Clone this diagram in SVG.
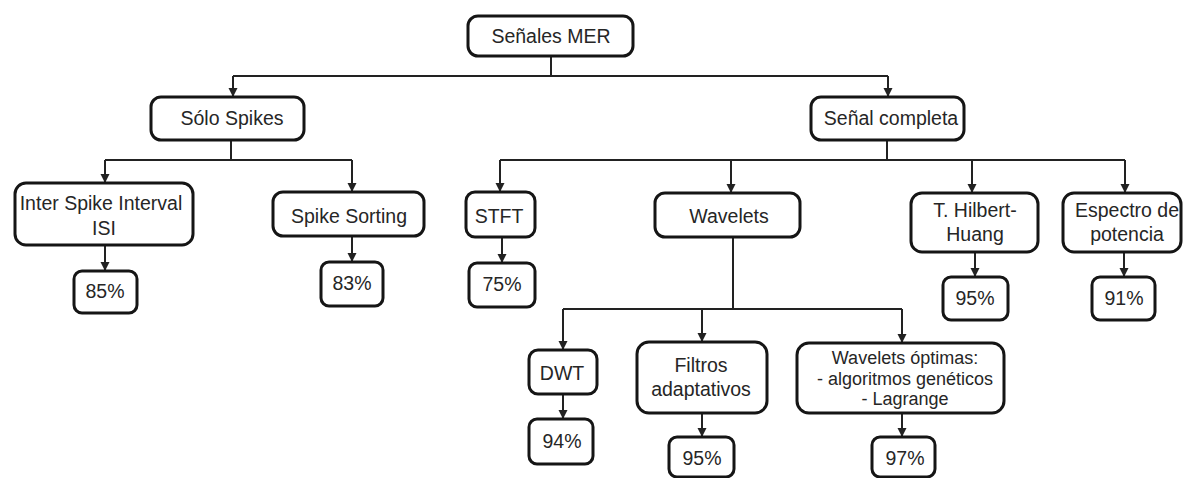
<svg xmlns="http://www.w3.org/2000/svg" width="1183" height="478" viewBox="0 0 1183 478">
  <style>
    .box rect { fill: #fff; stroke: #151515; stroke-width: 3; }
    .box text { font-family: "Liberation Sans", Arial, sans-serif; font-size: 19.5px; fill: #262626; text-anchor: middle; }
    .box text.tight { font-size: 18px; }
    .wires path { fill: none; stroke: #222; stroke-width: 2; }
  </style>
  <defs>
    <marker id="arrow" viewBox="0 0 10 10" refX="10" refY="5" markerWidth="9" markerHeight="10" markerUnits="userSpaceOnUse" orient="auto">
      <path d="M0,0 L10,5 L0,10 Z" fill="#222"/>
    </marker>
  </defs>

  <!-- connectors -->
  <g class="wires">
    <path d="M551,56 V76"/>
    <path d="M233,76 H888"/>
    <path d="M233,76 V97" marker-end="url(#arrow)"/>
    <path d="M888,76 V97" marker-end="url(#arrow)"/>

    <path d="M231,140 V160"/>
    <path d="M105,160 H352"/>
    <path d="M105,160 V183" marker-end="url(#arrow)"/>
    <path d="M352,160 V192" marker-end="url(#arrow)"/>
    <path d="M105,245 V271" marker-end="url(#arrow)"/>
    <path d="M352,236 V262" marker-end="url(#arrow)"/>

    <path d="M887,140 V160"/>
    <path d="M500,160 H1125"/>
    <path d="M500,160 V192" marker-end="url(#arrow)"/>
    <path d="M731,160 V193" marker-end="url(#arrow)"/>
    <path d="M972,160 V193" marker-end="url(#arrow)"/>
    <path d="M1125,160 V193" marker-end="url(#arrow)"/>
    <path d="M502,237 V263" marker-end="url(#arrow)"/>
    <path d="M975,252 V277" marker-end="url(#arrow)"/>
    <path d="M1124,252 V277" marker-end="url(#arrow)"/>

    <path d="M733,237 V309"/>
    <path d="M563,309 H902"/>
    <path d="M563,309 V350" marker-end="url(#arrow)"/>
    <path d="M702,309 V342" marker-end="url(#arrow)"/>
    <path d="M902,309 V343" marker-end="url(#arrow)"/>
    <path d="M563,394 V419" marker-end="url(#arrow)"/>
    <path d="M702,413 V437" marker-end="url(#arrow)"/>
    <path d="M902,413 V437" marker-end="url(#arrow)"/>
  </g>

  <!-- nodes -->
  <g id="senales-mer" class="box">
    <rect x="468" y="16" width="165" height="40" rx="10"/>
    <text x="551" y="43">Señales MER</text>
  </g>
  <g id="solo-spikes" class="box">
    <rect x="151" y="97" width="153" height="43" rx="10"/>
    <text x="232" y="125">Sólo Spikes</text>
  </g>
  <g id="senal-completa" class="box">
    <rect x="811" y="97" width="153" height="43" rx="10"/>
    <text x="891" y="125">Señal completa</text>
  </g>
  <g id="isi" class="box">
    <rect x="15" y="183" width="178" height="62" rx="11"/>
    <text x="101" y="210">Inter Spike Interval</text>
    <text x="104" y="235">ISI</text>
  </g>
  <g id="isi-result" class="box">
    <rect x="74" y="271" width="63" height="42" rx="8"/>
    <text x="105" y="298">85%</text>
  </g>
  <g id="spike-sorting" class="box">
    <rect x="273" y="192" width="151" height="44" rx="10"/>
    <text x="349" y="223">Spike Sorting</text>
  </g>
  <g id="spike-sorting-result" class="box">
    <rect x="321" y="262" width="62" height="44" rx="8"/>
    <text x="352" y="290">83%</text>
  </g>
  <g id="stft" class="box">
    <rect x="466" y="192" width="69" height="45" rx="9"/>
    <text x="499" y="223">STFT</text>
  </g>
  <g id="stft-result" class="box">
    <rect x="469" y="263" width="66" height="44" rx="8"/>
    <text x="502" y="291">75%</text>
  </g>
  <g id="wavelets" class="box">
    <rect x="655" y="193" width="145" height="44" rx="10"/>
    <text x="729" y="223">Wavelets</text>
  </g>
  <g id="hilbert-huang" class="box">
    <rect x="911" y="193" width="127" height="59" rx="11"/>
    <text x="975" y="217">T. Hilbert-</text>
    <text x="975" y="241">Huang</text>
  </g>
  <g id="hilbert-huang-result" class="box">
    <rect x="943" y="277" width="65" height="43" rx="8"/>
    <text x="975" y="305">95%</text>
  </g>
  <g id="espectro" class="box">
    <rect x="1063" y="193" width="118" height="59" rx="11"/>
    <text x="1127" y="217">Espectro de</text>
    <text x="1127" y="241">potencia</text>
  </g>
  <g id="espectro-result" class="box">
    <rect x="1092" y="277" width="63" height="43" rx="8"/>
    <text x="1124" y="305">91%</text>
  </g>
  <g id="dwt" class="box">
    <rect x="529" y="350" width="68" height="44" rx="9"/>
    <text x="562" y="380">DWT</text>
  </g>
  <g id="dwt-result" class="box">
    <rect x="529" y="419" width="64" height="45" rx="8"/>
    <text x="562" y="448">94%</text>
  </g>
  <g id="filtros" class="box">
    <rect x="637" y="342" width="130" height="71" rx="12"/>
    <text x="701" y="372">Filtros</text>
    <text x="701" y="396">adaptativos</text>
  </g>
  <g id="filtros-result" class="box">
    <rect x="669" y="437" width="65" height="40" rx="8"/>
    <text x="702" y="465">95%</text>
  </g>
  <g id="wavelets-optimas" class="box">
    <rect x="797" y="343" width="207" height="70" rx="12"/>
    <text class="tight" x="905" y="364">Wavelets óptimas:</text>
    <text class="tight" x="905" y="384.5">- algoritmos genéticos</text>
    <text class="tight" x="905" y="405">- Lagrange</text>
  </g>
  <g id="wavelets-optimas-result" class="box">
    <rect x="872" y="437" width="63" height="40" rx="8"/>
    <text x="905" y="465">97%</text>
  </g>
</svg>
